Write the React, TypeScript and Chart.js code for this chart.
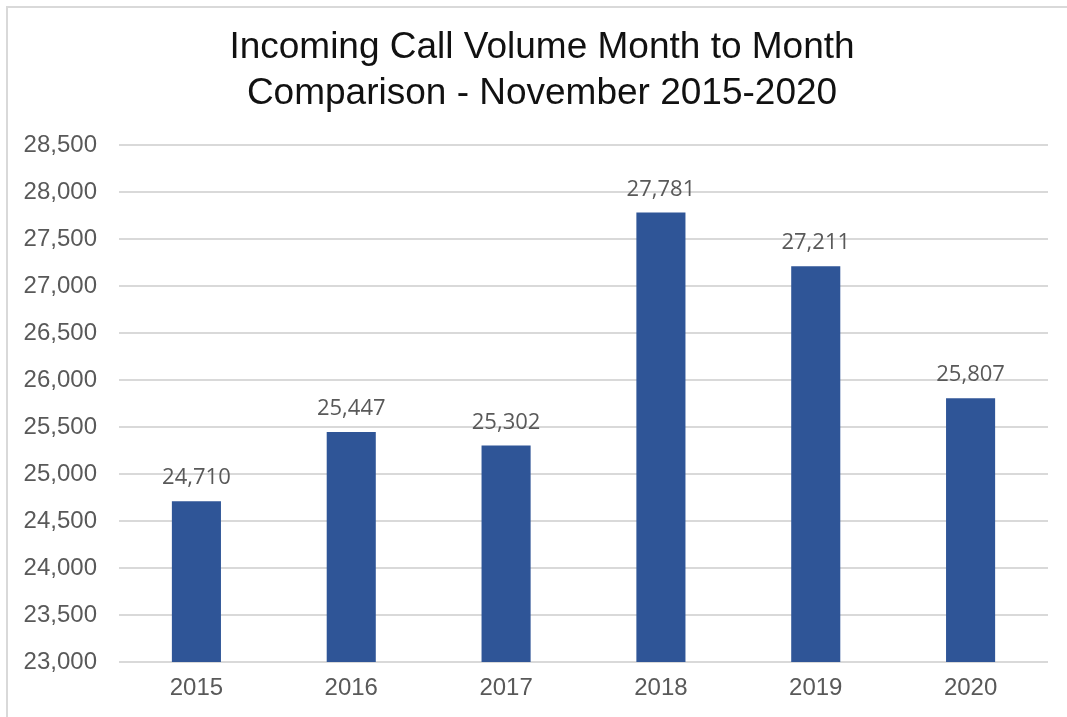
import React, { useEffect, useRef } from "react";
import { Chart, registerables } from "chart.js";

Chart.register(...registerables);

const categories = ["2015", "2016", "2017", "2018", "2019", "2020"];
const callVolumes = [24710, 25447, 25302, 27781, 27211, 25807];
const titleLines = ["Incoming Call Volume Month to Month", "Comparison - November 2015-2020"];
const yMin = 23000;
const yMax = 28500;
const yStep = 500;

const fmt = (v: number) => Number(v).toLocaleString("en-US");

const dataLabelPlugin = {
  id: "dataLabels",
  afterDatasetsDraw(chart: any) {
    const ctx = chart.ctx;
    const meta = chart.getDatasetMeta(0);
    const ds = chart.data.datasets[0];
    ctx.save();
    ctx.fillStyle = "#595959";
    ctx.font = '22px "Open Sans"';
    ctx.textAlign = "center";
    ctx.textBaseline = "alphabetic";
    meta.data.forEach((bar: any, i: number) => {
      ctx.fillText(fmt(ds.data[i]), bar.x, bar.y - 17);
    });
    ctx.restore();
  },
};

const titlePlugin = {
  id: "customTitle",
  afterDraw(chart: any) {
    const ctx = chart.ctx;
    ctx.save();
    ctx.fillStyle = "#111111";
    ctx.font = '37px "Liberation Sans", Arial, sans-serif';
    ctx.textAlign = "center";
    ctx.textBaseline = "middle";
    titleLines.forEach((line, i) => {
      ctx.fillText(line, 542, 48 + i * 46);
    });
    ctx.restore();
  },
};

export default function App() {
  const ref = useRef<HTMLCanvasElement>(null);
  useEffect(() => {
    document.body.style.overflow = "hidden";
    const chart = new Chart(ref.current!, {
      type: "bar",
      data: {
        labels: categories,
        datasets: [
          {
            data: callVolumes,
            backgroundColor: "#2F5597",
            borderWidth: 0,
            barPercentage: 0.317,
            categoryPercentage: 1,
          },
        ],
      },
      options: {
        responsive: false,
        animation: false,
        devicePixelRatio: 1,
        layout: { padding: { left: 0, right: 19, top: 145, bottom: 0 } },
        plugins: {
          legend: { display: false },
          tooltip: { enabled: false },
          title: { display: false },
        },
        scales: {
          x: {
            grid: { display: false, drawTicks: false },
            border: { display: false },
            ticks: {
              color: "#595959",
              padding: 12,
              font: { family: '"Liberation Sans", Arial, sans-serif', size: 24 },
            },
            afterFit: (s: any) => {
              s.height = 55;
            },
          },
          y: {
            min: yMin,
            max: yMax,
            grid: { color: "#d9d9d9", lineWidth: 2, drawTicks: false },
            border: { display: false },
            ticks: {
              stepSize: yStep,
              color: "#595959",
              padding: 22,
              font: { family: '"Liberation Sans", Arial, sans-serif', size: 24 },
              callback: (v: any) => fmt(v),
            },
            afterFit: (s: any) => {
              s.width = 119;
            },
          },
        },
      },
      plugins: [dataLabelPlugin, titlePlugin],
    } as any);
    return () => chart.destroy();
  }, []);
  return (
    <div>
      <div
        style={{
          position: "fixed",
          left: 6,
          top: 6,
          width: 1200,
          height: 800,
          border: "2px solid #d9d9d9",
          boxSizing: "border-box",
        }}
      />
      <canvas
        ref={ref}
        width={1067}
        height={717}
        style={{ position: "fixed", left: 0, top: 0, width: 1067, height: 717 }}
      />
    </div>
  );
}
